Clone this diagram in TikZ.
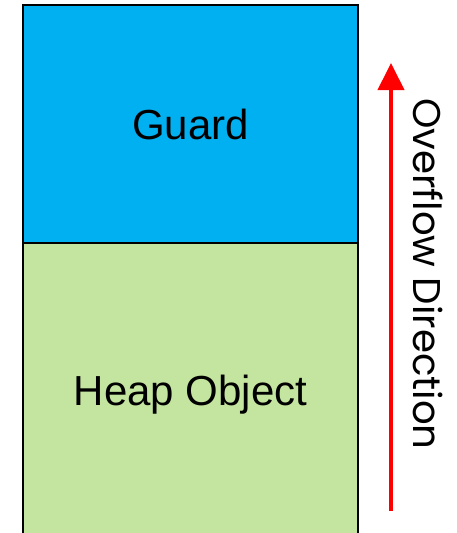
\documentclass[tikz,border=0pt]{standalone}
\usepackage{fontspec}
\setmainfont{Liberation Sans}
\newfontfamily\labelfont{Poppins}
\usetikzlibrary{arrows.meta}
\definecolor{guardblue}{HTML}{00B0F0}
\definecolor{heapgreen}{HTML}{C4E59F}
\definecolor{arrowred}{HTML}{FF0000}
\tikzset{
  region/.style={draw=black, line width=1.5pt, inner sep=0pt, outer sep=0pt,
    font=\fontsize{31.5pt}{36pt}\selectfont, text height=22.5pt, text depth=0pt},
  flowarrow/.style={draw=arrowred, line width=3pt,
    -{Triangle[width=19.5pt, length=20.25pt]}},
  flowlabel/.style={inner sep=0pt, rotate=-90,
    font=\labelfont\fontsize{29pt}{34pt}\selectfont, text height=20.25pt, text depth=0pt}
}
\begin{document}
\begin{tikzpicture}[x=0.75pt, y=-0.75pt]
  \useasboundingbox (0,0) rectangle (457,533);
  \clip (0,0) rectangle (457,533);
  % memory layout: guard page above the heap object
  \node[region, fill=guardblue, minimum width=251.25pt, minimum height=178.5pt]
    (guard) at (190.5,124) {Guard};
  \node[region, fill=heapgreen, minimum width=251.25pt, minimum height=220.5pt]
    (heap) at (190.5,390) {Heap Object};
  % direction in which an overflow runs
  \coordinate (tail) at (391,511);
  \coordinate (tip) at (391,63);
  \draw[flowarrow] (tail) -- (tip);
  \node[flowlabel] (dir) at (426.5,274) {Overflow Direction};
\end{tikzpicture}
\end{document}
